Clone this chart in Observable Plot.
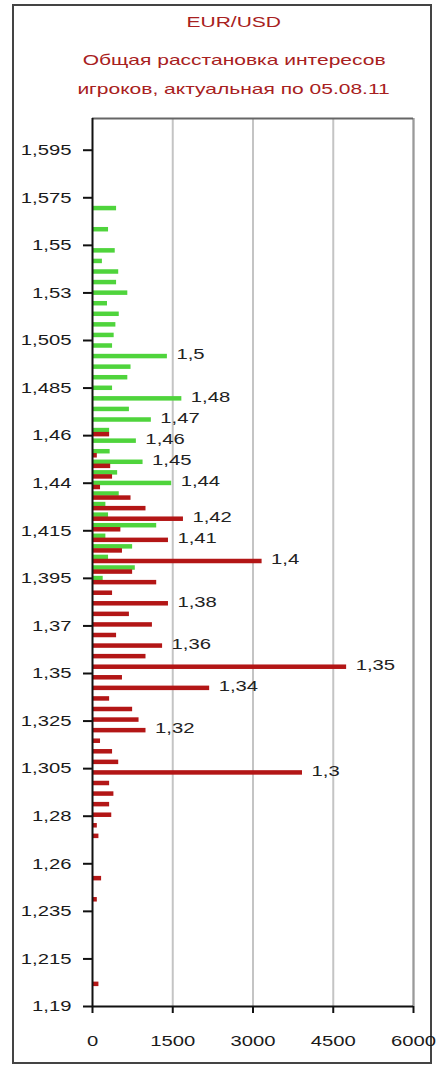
<!DOCTYPE html>
<html><head><meta charset="utf-8">
<script src="https://cdn.jsdelivr.net/npm/d3@7"></script>
<script src="https://cdn.jsdelivr.net/npm/@observablehq/plot@0.6"></script>
<style>
html,body{margin:0;padding:0;background:#fff;}
body{width:437px;height:1066px;position:relative;overflow:hidden;font-family:"Liberation Sans",Arial,sans-serif;}
#frame{position:absolute;left:12px;top:4px;width:420px;height:1060px;border:2px solid #444;box-sizing:border-box;}
.t{position:absolute;left:0;width:468px;text-align:center;color:#a82020;font-size:15px;line-height:17px;white-space:nowrap;}
.t span{display:inline-block;transform:scaleX(1.4);}
#chart{position:absolute;left:0;top:100px;}
</style></head><body>
<div id="frame"></div>
<div class="t" style="top:13px"><span>EUR/USD</span></div>
<div class="t" style="top:51px"><span>Общая расстановка интересов</span></div>
<div class="t" style="top:80px"><span>игроков, актуальная по 05.08.11</span></div>
<div id="chart"></div>
<script>
// ---- data ----
const greenPrices = [1.57, 1.56, 1.55, 1.545, 1.54, 1.535, 1.53, 1.525, 1.52, 1.515, 1.51, 1.505, 1.5, 1.495, 1.49, 1.485, 1.48, 1.475, 1.47, 1.465, 1.46, 1.455, 1.45, 1.445, 1.44, 1.435, 1.43, 1.425, 1.42, 1.415, 1.41, 1.405, 1.4, 1.395];
const greenValues = [450, 300, 425, 185, 490, 450, 660, 280, 500, 437, 405, 375, 1400, 720, 660, 375, 1670, 690, 1100, 320, 820, 330, 945, 470, 1480, 500, 250, 300, 1200, 250, 750, 300, 800, 200];
const redPrices = [1.46, 1.45, 1.445, 1.44, 1.435, 1.43, 1.425, 1.42, 1.415, 1.41, 1.405, 1.4, 1.395, 1.39, 1.385, 1.38, 1.375, 1.37, 1.365, 1.36, 1.355, 1.35, 1.345, 1.34, 1.335, 1.33, 1.325, 1.32, 1.315, 1.31, 1.305, 1.3, 1.295, 1.29, 1.285, 1.28, 1.275, 1.27, 1.25, 1.24, 1.2];
const redValues = [320, 90, 340, 375, 150, 720, 1000, 1700, 530, 1420, 560, 3170, 750, 1200, 375, 1420, 690, 1120, 450, 1310, 1000, 4750, 560, 2190, 320, 750, 870, 1000, 150, 375, 490, 3925, 320, 400, 320, 360, 90, 120, 170, 90, 120];
const labeledGreen = [1.5, 1.48, 1.47, 1.46, 1.45, 1.44];
const labeledRed = [1.42, 1.41, 1.4, 1.38, 1.36, 1.35, 1.34, 1.32, 1.3];
const yTickLabels = ["1,19","1,215","1,235","1,26","1,28","1,305","1,325","1,35","1,37","1,395","1,415","1,44","1,46","1,485","1,505","1,53","1,55","1,575","1,595"];
const xTicks = [0, 1500, 3000, 4500, 6000];
const yMin = 1.19, yMax = 1.61, yStep = 0.0225;

// ---- build ----
const W = 437, H = 966, mT = 18, mB = 60, mL = 92, mR = 24;
const pxPerUnit = (H - mT - mB) / (yMax - yMin);
const u = px => px / pxPerUnit;
const barH = u(4.5), greenOff = u(-5.5), redOff = u(1);

const green = greenPrices.map((p, i) => ({p, v: greenValues[i], c: p + greenOff}));
const red = redPrices.map((p, i) => ({p, v: redValues[i], c: p + redOff}));
const labels = [
  ...green.filter(d => labeledGreen.includes(d.p)),
  ...red.filter(d => labeledRed.includes(d.p))
];
const yTickValues = yTickLabels.map((_, i) => yMin + i * yStep);
const fmtY = d => yTickLabels[Math.round((d - yMin) / yStep)];

const chart = Plot.plot({
  width: W, height: H,
  marginTop: mT, marginBottom: mB, marginLeft: mL, marginRight: mR,
  style: {fontFamily: '"Liberation Sans", Arial, sans-serif', fontSize: "15px", color: "#1a1a1a", background: "transparent"},
  x: {domain: [0, 6000]},
  y: {domain: [yMin, yMax]},
  marks: [
    Plot.gridX(xTicks.slice(1), {stroke: "#c4c4c4", strokeOpacity: 1, strokeWidth: 2}),
    Plot.ruleX([6000], {stroke: "#9a9a9a", strokeWidth: 2}),
    Plot.ruleY([yMax], {stroke: "#666", strokeWidth: 2}),
    Plot.rect(green, {x1: () => 0, x2: d => d.v, y1: d => d.c - barH / 2, y2: d => d.c + barH / 2, fill: "#4fd43c"}),
    Plot.rect(red, {x1: () => 0, x2: d => d.v, y1: d => d.c - barH / 2, y2: d => d.c + barH / 2, fill: "#b31616"}),
    Plot.text(labels, {x: d => d.v, y: d => d.c, text: d => String(d.p).replace(".", ","), dx: 9, dy: -2, textAnchor: "start", fontSize: 15, fill: "#222"}),
    Plot.ruleX([0], {stroke: "#111", strokeWidth: 2}),
    Plot.ruleY([yMin], {stroke: "#111", strokeWidth: 2}),
    Plot.axisY(yTickValues, {tickFormat: fmtY, tickSize: 9, tickPadding: 12, stroke: "#111", strokeWidth: 2, fontSize: 15, fill: "#1a1a1a"}),
    Plot.axisX(xTicks, {tickFormat: d => String(d), tickSize: 7, tickPadding: 22, stroke: "#111", strokeWidth: 2, fontSize: 15, fill: "#1a1a1a"})
  ]
});
document.getElementById("chart").append(chart);
// horizontally stretched lettering like the reference
chart.querySelectorAll("text").forEach(t => {
  if (t.querySelector("tspan")) return;
  const L = t.getComputedTextLength();
  if (L > 0) { t.setAttribute("textLength", L * 1.35); t.setAttribute("lengthAdjust", "spacingAndGlyphs"); }
});
</script>
</body></html>
